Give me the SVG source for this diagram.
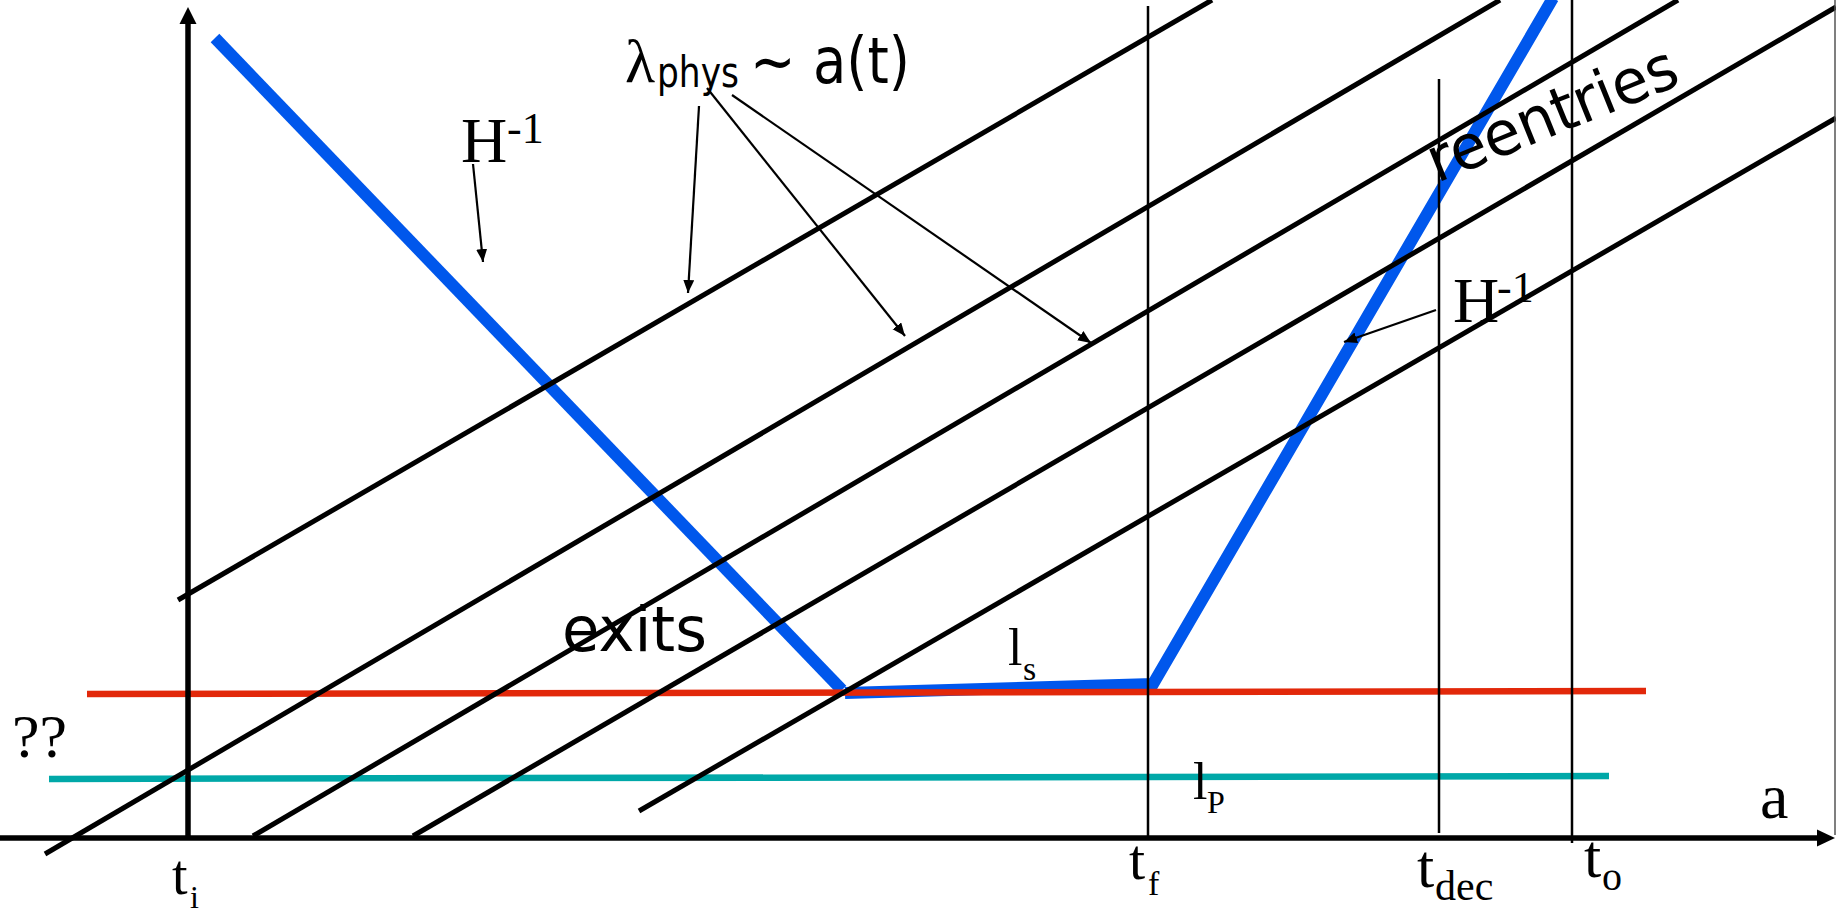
<svg xmlns="http://www.w3.org/2000/svg" width="1836" height="914" viewBox="0 0 1836 914">
<style>
  .bg { fill: #ffffff; }
  .diag { stroke: #000; stroke-width: 5; fill: none; }
  .axis { stroke: #000; stroke-width: 5.5; fill: none; }
  .vert { stroke: #000; stroke-width: 2.5; fill: none; }
  .thin { stroke: #000; stroke-width: 2.2; fill: none; marker-end: url(#ah); }
  .blue { stroke: #0057ec; stroke-width: 12; fill: none; stroke-linejoin: miter; }
  .red { stroke: #e2280a; stroke-width: 6.5; fill: none; }
  .teal { stroke: #00a8a8; stroke-width: 6.5; fill: none; }
  .serif { font-family: "Liberation Serif", "Times New Roman", serif; fill: #000; }
  .hand { font-family: "DejaVu Sans", "Noto Sans", sans-serif; fill: #000; }
</style>
<defs>
  <marker id="ah" markerUnits="userSpaceOnUse" markerWidth="14" markerHeight="12" refX="13" refY="5.5" orient="auto">
    <path d="M0,0 L13,5.5 L0,11 z" fill="#000"/>
  </marker>
</defs>
<rect class="bg" x="0" y="0" width="1836" height="914"/>

<g id="curves">
  <line class="blue" x1="215" y1="38" x2="842" y2="690"/>
  <polyline class="blue" points="845,693 1153,684 1553,-2"/>
  <line class="red" x1="87" y1="694" x2="1646" y2="691"/>
  <line class="teal" x1="49" y1="779" x2="1609" y2="776"/>
</g>

<g id="connectors">
  <line class="diag" x1="178" y1="600" x2="1212" y2="0"/>
  <line class="diag" x1="45" y1="854" x2="1500" y2="0"/>
  <line class="diag" x1="253" y1="836" x2="1678" y2="0"/>
  <line class="diag" x1="413" y1="836" x2="1836" y2="7"/>
  <line class="diag" x1="639" y1="811" x2="1836" y2="118"/>

  <line class="vert" x1="1148" y1="6" x2="1148" y2="838"/>
  <line class="vert" x1="1439" y1="79" x2="1439" y2="833"/>
  <line class="vert" x1="1572" y1="0" x2="1572" y2="843"/>
  <line x1="1835" y1="0" x2="1835" y2="835" stroke="#555" stroke-width="1.5"/>

  <line class="axis" x1="0" y1="838" x2="1818" y2="838"/>
  <polygon points="1817,829.5 1835,838 1817,846.5" fill="#000"/>
  <line class="axis" x1="188" y1="838" x2="188" y2="23"/>
  <polygon points="179.5,24 188,7 196.5,24" fill="#000"/>

  <line class="thin" x1="473" y1="164" x2="483" y2="262"/>
  <line class="thin" x1="699" y1="106" x2="688" y2="293"/>
  <line class="thin" x1="707" y1="88" x2="905" y2="336"/>
  <line class="thin" x1="732" y1="95" x2="1091" y2="343"/>
  <line class="thin" x1="1436" y1="310" x2="1344" y2="342"/>
</g>

<g id="label-lambda">
  <text class="serif" x="625" y="82" font-size="62">λ</text>
  <text class="hand" x="657" y="87" font-size="42" textLength="82" lengthAdjust="spacingAndGlyphs">phys</text>
  <text class="hand" x="750" y="83" font-size="64" textLength="160" lengthAdjust="spacingAndGlyphs">~ a(t)</text>
</g>
<g id="label-H-left">
  <text class="serif" x="461" y="162" font-size="64">H</text>
  <text class="serif" x="507" y="143" font-size="44">-1</text>
</g>
<g id="label-H-right">
  <text class="serif" x="1453" y="322" font-size="64">H</text>
  <text class="serif" x="1497" y="302" font-size="44">-1</text>
</g>
<g id="label-reentries">
  <text class="hand" x="0" y="0" font-size="62" textLength="265" lengthAdjust="spacingAndGlyphs" transform="translate(1437,183) rotate(-22)">reentries</text>
</g>
<g id="label-exits">
  <text class="hand" x="562" y="651" font-size="62" textLength="145" lengthAdjust="spacingAndGlyphs">exits</text>
</g>
<g id="label-ls">
  <text class="serif" x="1008" y="665" font-size="52">l</text>
  <text class="serif" x="1023" y="680" font-size="34">s</text>
</g>
<g id="label-lP">
  <text class="serif" x="1193" y="799" font-size="52">l</text>
  <text class="serif" x="1207" y="813" font-size="32">P</text>
</g>
<g id="label-qq">
  <text class="serif" x="12" y="757" font-size="62">??</text>
</g>
<g id="label-a">
  <text class="serif" x="1760" y="818" font-size="64">a</text>
</g>
<g id="label-ti">
  <text class="serif" x="172" y="894" font-size="56">t</text>
  <text class="serif" x="190" y="908" font-size="32">i</text>
</g>
<g id="label-tf">
  <text class="serif" x="1129" y="879" font-size="58">t</text>
  <text class="serif" x="1148" y="895" font-size="34">f</text>
</g>
<g id="label-tdec">
  <text class="serif" x="1417" y="887" font-size="62">t</text>
  <text class="serif" x="1435" y="900" font-size="42">dec</text>
</g>
<g id="label-to">
  <text class="serif" x="1584" y="877" font-size="62">t</text>
  <text class="serif" x="1602" y="890" font-size="40">o</text>
</g>
</svg>
